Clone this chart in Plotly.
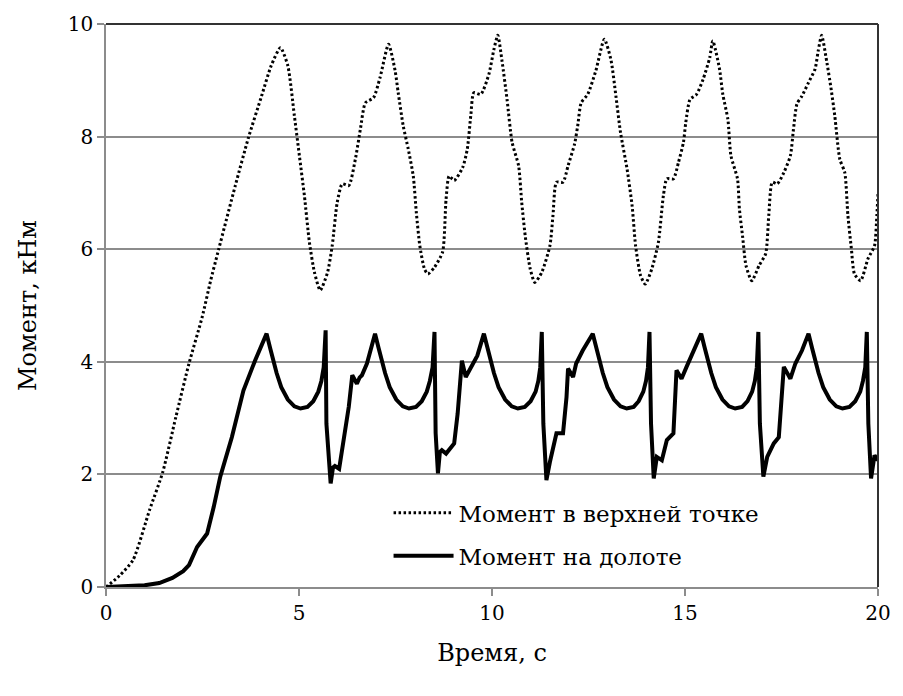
import plotly.graph_objects as go

# Момент в верхней точке (dotted)
t_top = [0, 0.35, 0.70, 1.13, 1.47, 1.81, 2.15, 2.49, 2.71, 2.92,
         3.35, 3.69, 4.03, 4.28, 4.52, 4.71, 4.88, 5.01, 5.14, 5.27,
         5.40, 5.55, 5.74, 5.86, 5.99, 6.12, 6.29, 6.46, 6.59, 6.72,
         6.93, 7.10, 7.32, 7.49, 7.57, 7.70, 7.83, 7.96, 8.04, 8.13,
         8.25, 8.34, 8.51, 8.72, 8.81, 8.89, 9.02, 9.24, 9.36, 9.45,
         9.53, 9.71, 9.92, 10.05, 10.15, 10.26, 10.39, 10.52, 10.69, 10.77,
         10.86, 10.99, 11.11, 11.29, 11.50, 11.58, 11.67, 11.84, 11.97, 12.14,
         12.22, 12.31, 12.48, 12.69, 12.91, 13.08, 13.21, 13.33, 13.50, 13.63,
         13.72, 13.85, 13.97, 14.14, 14.31, 14.44, 14.53, 14.70, 14.83, 14.96,
         15.02, 15.13, 15.30, 15.47, 15.64, 15.72, 15.89, 15.98, 16.11, 16.19,
         16.36, 16.41, 16.49, 16.58, 16.73, 16.92, 17.09, 17.17, 17.26, 17.39,
         17.56, 17.73, 17.81, 17.90, 18.03, 18.20, 18.37, 18.45, 18.54, 18.67,
         18.78, 18.88, 19.01, 19.14, 19.22, 19.31, 19.39, 19.55, 19.74, 19.91,
         19.97, 20.0]
m_top = [0, 0.2, 0.48, 1.37, 2.04, 3.02, 3.97, 4.79, 5.44, 6.0,
         7.13, 7.98, 8.72, 9.26, 9.58, 9.26, 8.37, 7.66, 6.95, 6.12,
         5.59, 5.27, 5.59, 6.06, 6.83, 7.16, 7.13, 7.60, 8.13, 8.60,
         8.69, 9.05, 9.64, 9.17, 8.78, 8.19, 7.78, 7.30, 6.65, 6.06,
         5.65, 5.56, 5.68, 5.95, 6.89, 7.30, 7.22, 7.45, 7.78, 8.37,
         8.78, 8.75, 9.11, 9.55, 9.80, 9.34, 8.66, 7.90, 7.48, 6.83,
         6.24, 5.65, 5.41, 5.59, 6.06, 6.60, 7.19, 7.19, 7.48, 7.87,
         8.19, 8.60, 8.75, 9.17, 9.73, 9.37, 8.72, 8.07, 7.42, 6.77,
         6.06, 5.53, 5.38, 5.65, 6.12, 6.95, 7.25, 7.25, 7.54, 7.90,
         8.25, 8.66, 8.75, 9.02, 9.40, 9.70, 9.22, 8.75, 8.31, 7.66,
         7.25, 6.71, 6.24, 5.71, 5.44, 5.71, 5.92, 6.60, 7.19, 7.16,
         7.36, 7.66, 8.13, 8.58, 8.72, 8.96, 9.20, 9.52, 9.80, 9.34,
         8.87, 8.37, 7.60, 7.36, 6.60, 6.01, 5.56, 5.44, 5.83, 6.06,
         6.60, 6.98]

# Момент на долоте (solid)
t_bit = [0, 0.70, 1.00, 1.38, 1.72, 2.00, 2.15, 2.36, 2.62, 2.79, 2.96, 3.26, 3.56, 3.86,
         4.16, 4.25, 4.33, 4.42, 4.54, 4.71, 4.88, 5.04, 5.22, 5.37, 5.50, 5.58, 5.64,
         5.69, 5.71, 5.78, 5.82, 5.88, 5.93, 6.04, 6.16, 6.29, 6.38, 6.44, 6.50, 6.57, 6.63, 6.76,
         6.97, 7.06, 7.14, 7.23, 7.35, 7.52, 7.69, 7.85, 8.03, 8.18, 8.31, 8.39, 8.46,
         8.51, 8.54, 8.60, 8.65, 8.70, 8.81, 9.02, 9.11, 9.22, 9.32, 9.45, 9.62,
         9.79, 9.88, 9.96, 10.05, 10.17, 10.34, 10.51, 10.67, 10.85, 11.00, 11.13, 11.20, 11.25,
         11.29, 11.33, 11.41, 11.50, 11.67, 11.84, 11.93, 11.97, 12.10, 12.18, 12.35,
         12.61, 12.70, 12.78, 12.87, 12.99, 13.16, 13.33, 13.49, 13.67, 13.80, 13.92, 13.99, 14.04,
         14.08, 14.12, 14.19, 14.27, 14.40, 14.53, 14.70, 14.78, 14.91, 15.04, 15.21,
         15.42, 15.51, 15.59, 15.68, 15.80, 15.97, 16.14, 16.30, 16.48, 16.62, 16.74, 16.81, 16.86,
         16.90, 16.94, 17.03, 17.13, 17.30, 17.43, 17.56, 17.73, 17.86, 18.03,
         18.20, 18.29, 18.37, 18.46, 18.58, 18.75, 18.92, 19.08, 19.26, 19.41, 19.54, 19.61, 19.67,
         19.71, 19.75, 19.82, 19.91, 20.0]
m_bit = [0, 0.02, 0.03, 0.07, 0.16, 0.28, 0.39, 0.71, 0.95, 1.42, 1.96, 2.66, 3.49, 4.02,
         4.50, 4.25, 4.02, 3.80, 3.55, 3.33, 3.21, 3.17, 3.20, 3.30, 3.47, 3.66, 3.90,
         4.56, 2.90, 2.07, 1.84, 2.12, 2.15, 2.10, 2.61, 3.20, 3.76, 3.70, 3.61, 3.72, 3.76, 3.97,
         4.50, 4.25, 4.02, 3.80, 3.55, 3.33, 3.21, 3.17, 3.20, 3.30, 3.47, 3.66, 3.90,
         4.53, 2.73, 2.02, 2.40, 2.43, 2.37, 2.55, 3.08, 4.02, 3.73, 3.91, 4.11,
         4.50, 4.25, 4.02, 3.80, 3.55, 3.33, 3.21, 3.17, 3.20, 3.30, 3.47, 3.66, 3.90,
         4.53, 2.90, 1.90, 2.22, 2.73, 2.73, 3.37, 3.88, 3.73, 3.97, 4.20,
         4.50, 4.25, 4.02, 3.80, 3.55, 3.33, 3.21, 3.17, 3.20, 3.30, 3.47, 3.66, 3.90,
         4.53, 2.90, 1.93, 2.31, 2.25, 2.61, 2.73, 3.85, 3.70, 3.91, 4.17,
         4.50, 4.25, 4.02, 3.80, 3.55, 3.33, 3.21, 3.17, 3.20, 3.30, 3.47, 3.66, 3.90,
         4.53, 2.90, 1.96, 2.31, 2.55, 2.66, 3.91, 3.70, 3.97, 4.20,
         4.50, 4.25, 4.02, 3.80, 3.55, 3.33, 3.21, 3.17, 3.20, 3.30, 3.47, 3.66, 3.90,
         4.53, 2.90, 1.93, 2.34, 2.25]

x_ticks = [0, 5, 10, 15, 20]
y_ticks = [0, 2, 4, 6, 8, 10]

FONT = "DejaVu Serif"
GRID = "#8c8c8c"

fig = go.Figure()
fig.add_trace(go.Scatter(
    x=t_top, y=m_top, mode="lines", name="Момент в верхней точке",
    line=dict(color="black", width=3, dash="2.5px,2.5px", shape="spline", smoothing=0.6),
    legendgroup="a"))
fig.add_trace(go.Scatter(
    x=t_bit, y=m_bit, mode="lines", name="Момент на долоте",
    line=dict(color="black", width=4), legendgroup="b"))

fig.update_layout(
    width=903, height=696,
    margin=dict(l=106, r=16, t=23, b=109),
    paper_bgcolor="white", plot_bgcolor="white",
    font=dict(family=FONT, size=20, color="black"),
    showlegend=True,
    legend=dict(x=0.366, y=0.17, xanchor="left", yanchor="top",
                bgcolor="rgba(0,0,0,0)", font=dict(family=FONT, size=23),
                traceorder="grouped", tracegroupgap=10, itemwidth=60),
    xaxis=dict(range=[0, 20], tickvals=x_ticks, showgrid=False,
               showline=True, linecolor=GRID, linewidth=1.5,
               ticks="outside", ticklen=7, tickcolor=GRID, tickwidth=1.5,
               zeroline=False, tickfont=dict(family=FONT, size=20),
               title=dict(text="Время, с", font=dict(family=FONT, size=24), standoff=20)),
    yaxis=dict(range=[0, 10], tickvals=y_ticks, showgrid=True, gridcolor=GRID, gridwidth=1.5,
               showline=True, linecolor=GRID, linewidth=1.5,
               ticks="outside", ticklen=7, tickcolor=GRID, tickwidth=1.5,
               zeroline=False, tickfont=dict(family=FONT, size=20),
               title=dict(text="Момент, кНм", font=dict(family=FONT, size=24), standoff=24)),
    shapes=[
        dict(type="line", xref="paper", yref="paper", x0=0, x1=1, y0=1, y1=1,
             line=dict(color="#333333", width=2)),
        dict(type="line", xref="paper", yref="paper", x0=1, x1=1, y0=0, y1=1,
             line=dict(color="#333333", width=2)),
    ],
)

fig.write_html("out.html")
